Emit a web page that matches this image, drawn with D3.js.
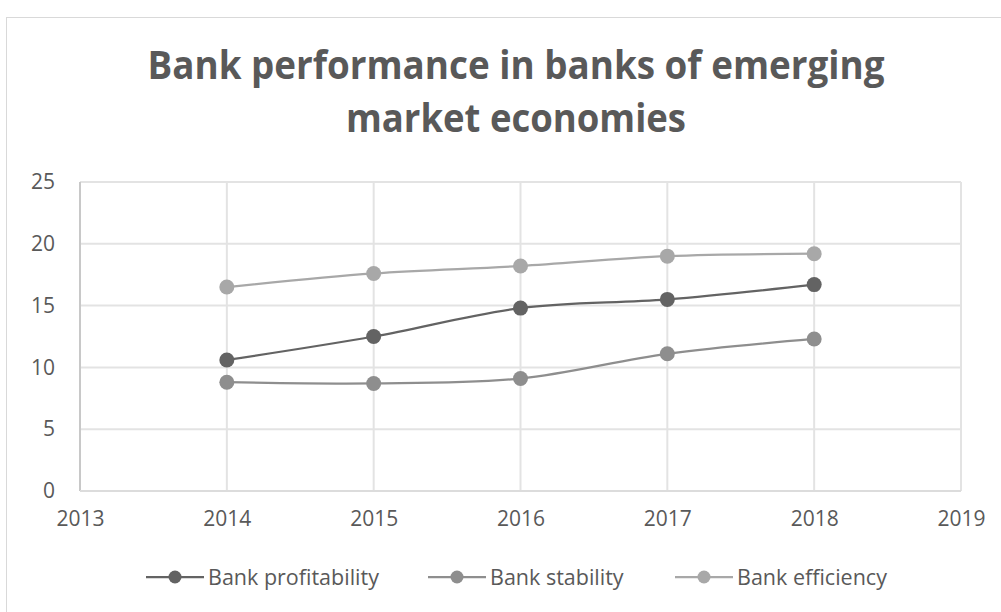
<!DOCTYPE html>
<html><head><meta charset="utf-8">
<script src="https://cdn.jsdelivr.net/npm/d3@7"></script>
<style>body{margin:0;background:#fff;} svg{display:block;}</style>
</head><body>
<svg id="c" width="1001" height="612"></svg>
<script>
const years = [2014, 2015, 2016, 2017, 2018];
const profitability = [10.6, 12.5, 14.8, 15.5, 16.7];
const stability = [8.8, 8.7, 9.1, 11.1, 12.3];
const efficiency = [16.5, 17.6, 18.2, 19.0, 19.2];
const seriesNames = ["Bank profitability", "Bank stability", "Bank efficiency"];
const seriesColors = ["#636363", "#8e8e8e", "#a8a8a8"];
const yTicks = [0, 5, 10, 15, 20, 25];
const xTicks = [2013, 2014, 2015, 2016, 2017, 2018, 2019];
const titleLines = ["Bank performance in banks of emerging", "market economies"];

const svg = d3.select("#c");
const font = "'Open Sans', 'Liberation Sans', sans-serif";

// chart border
svg.append("rect").attr("x", 6.5).attr("y", 17.5).attr("width", 1010).attr("height", 610)
  .attr("fill", "#fff").attr("stroke", "#d9d9d9").attr("stroke-width", 1);

const x = d3.scaleLinear().domain([2013, 2019]).range([80, 961]);
const y = d3.scaleLinear().domain([0, 25]).range([491, 182]);

// title
const titleWidths = [737, 340];
svg.append("g").selectAll("text").data(titleLines).join("text")
  .attr("x", 516).attr("y", (d, i) => 79 + i * 53)
  .attr("text-anchor", "middle").attr("font-family", font)
  .attr("font-weight", "bold").attr("font-size", 39).attr("fill", "#595959")
  .attr("textLength", (d, i) => titleWidths[i]).attr("lengthAdjust", "spacingAndGlyphs")
  .text(d => d);

// gridlines
const g = svg.append("g");
g.selectAll("line.h").data(yTicks).join("line").attr("class", "h")
  .attr("x1", x(2013)).attr("x2", x(2019)).attr("y1", d => y(d)).attr("y2", d => y(d))
  .attr("stroke", "#e3e3e3").attr("stroke-width", 2);
g.selectAll("line.v").data(xTicks).join("line").attr("class", "v")
  .attr("x1", d => x(d)).attr("x2", d => x(d)).attr("y1", y(0)).attr("y2", y(25))
  .attr("stroke", "#e3e3e3").attr("stroke-width", 2);
// axis lines
g.append("line").attr("x1", x(2013)).attr("x2", x(2013)).attr("y1", y(0)).attr("y2", y(25))
  .attr("stroke", "#c8c8c8").attr("stroke-width", 2);
g.append("line").attr("x1", x(2013)).attr("x2", x(2019)).attr("y1", y(0)).attr("y2", y(0))
  .attr("stroke", "#dcdcdc").attr("stroke-width", 2);

// axis labels via d3 axes
const yAxis = svg.append("g").attr("transform", `translate(${x(2013)},0)`)
  .call(d3.axisLeft(y).tickValues(yTicks).tickSize(0).tickPadding(25));
const xAxis = svg.append("g").attr("transform", `translate(0,${y(0)})`)
  .call(d3.axisBottom(x).tickValues(xTicks).tickFormat(d3.format("d")).tickSize(0).tickPadding(20));
[yAxis, xAxis].forEach(a => {
  a.select(".domain").remove();
  a.selectAll("text").attr("font-family", font).attr("font-size", 21).attr("fill", "#595959");
});

// series
const data = [profitability, stability, efficiency];
const line = d3.line().x((d, i) => x(years[i])).y(d => y(d)).curve(d3.curveCatmullRom.alpha(0.5));
data.forEach((vals, si) => {
  svg.append("path").datum(vals).attr("d", line).attr("fill", "none")
    .attr("stroke", seriesColors[si]).attr("stroke-width", 2.25);
  svg.append("g").selectAll("circle").data(vals).join("circle")
    .attr("cx", (d, i) => x(years[i])).attr("cy", d => y(d)).attr("r", 7.5)
    .attr("fill", seriesColors[si]);
});

// legend
const legendX = [146, 428, 675];
const lg = svg.append("g");
seriesNames.forEach((n, i) => {
  const lx = legendX[i];
  lg.append("line").attr("x1", lx).attr("x2", lx + 58).attr("y1", 577).attr("y2", 577)
    .attr("stroke", seriesColors[i]).attr("stroke-width", 2.25);
  lg.append("circle").attr("cx", lx + 29).attr("cy", 577).attr("r", 6.5).attr("fill", seriesColors[i]);
  lg.append("text").attr("x", lx + 62).attr("y", 585).attr("font-family", font)
    .attr("font-size", 21.5).attr("fill", "#595959").text(n);
});
</script>
</body></html>
